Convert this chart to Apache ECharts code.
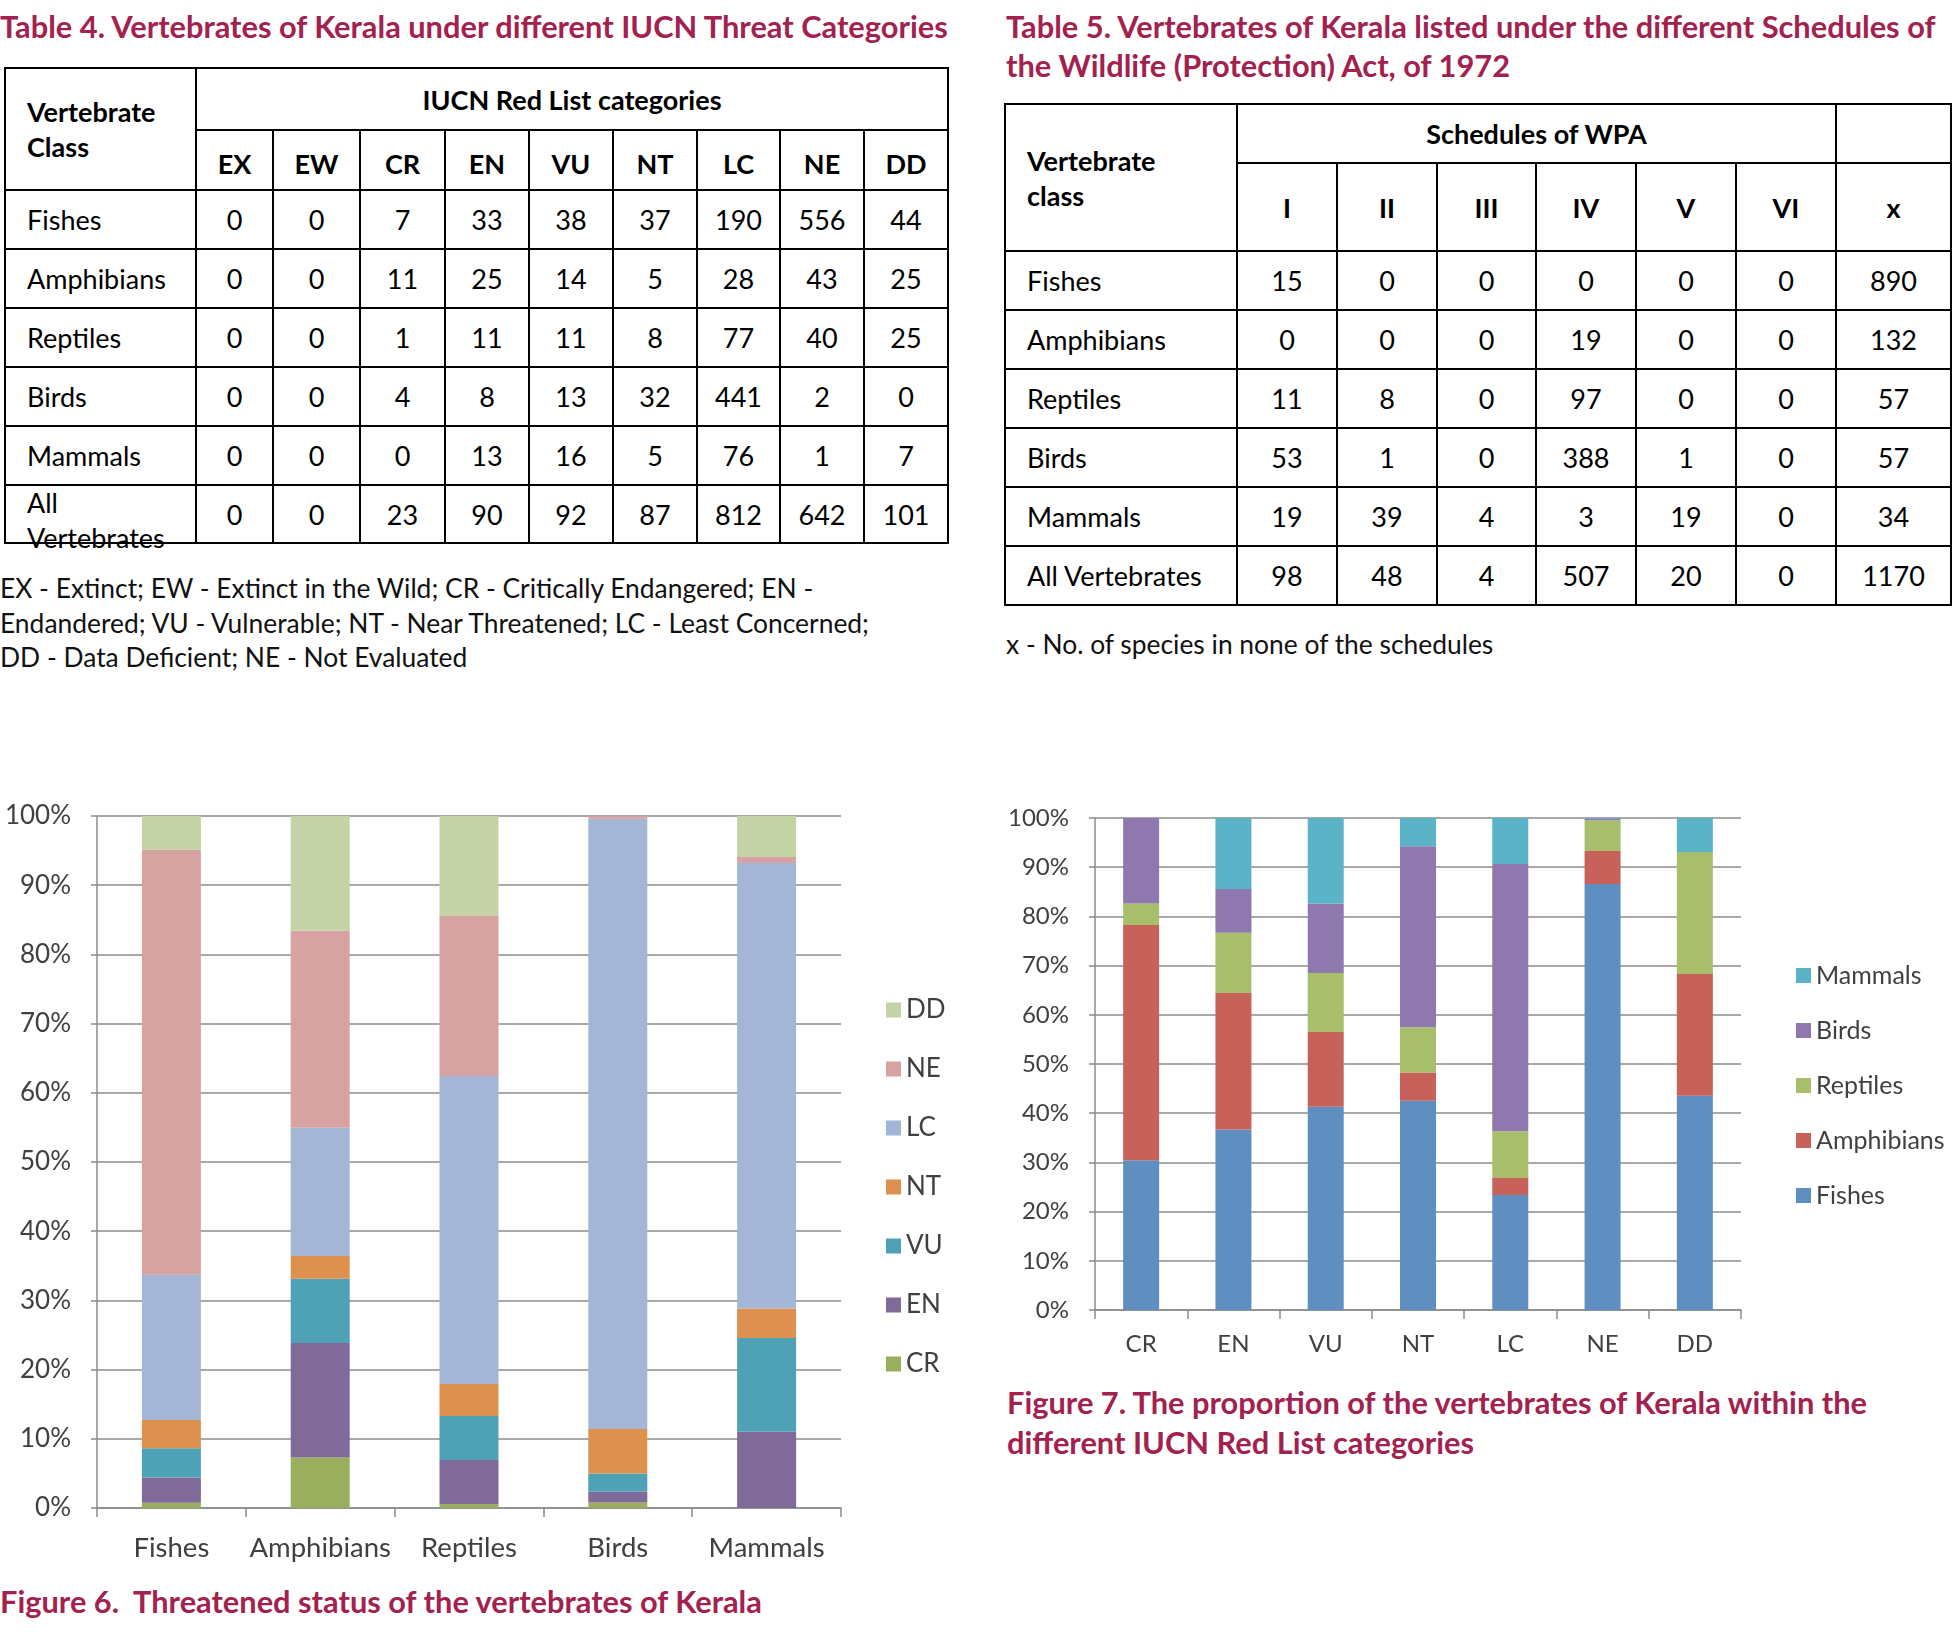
<!DOCTYPE html>
<html>
<head>
<meta charset="utf-8">
<script src="https://cdn.jsdelivr.net/npm/echarts@6/dist/echarts.min.js"></script>
<style>
  body {
    margin: 0;
    width: 1952px;
    height: 1640px;
    background: #fff;
    position: relative;
    overflow: hidden;
    font-family: Lato, sans-serif;
    color: #000;
  }
  .cap {
    position: absolute;
    color: #a3214f;
    font-weight: bold;
    font-size: 30.8px;
    white-space: nowrap;
  }
  .note {
    position: absolute;
    font-size: 26.4px;
    line-height: 34.5px;
    white-space: nowrap;
    color: #111;
  }
  table {
    position: absolute;
    border-collapse: collapse;
    table-layout: fixed;
    font-size: 27px;
  }
  td {
    border: 2.5px solid #000;
    text-align: center;
    padding: 0;
    overflow: visible;
  }
  td.name { text-align: left; padding-left: 21px; }
  td.head { font-weight: bold; }
  .chart { position: absolute; }
</style>
</head>
<body>

<div class="cap" style="left:0; top:10px; line-height:34px;">Table 4. Vertebrates of Kerala under different IUCN Threat Categories</div>
<table id="t4" style="left:4px; top:67px;"></table>
<div class="note" style="left:0; top:571px;">EX - Extinct; EW - Extinct in the Wild; CR - Critically Endangered; EN -<br>Endandered; VU - Vulnerable; NT - Near Threatened; LC - Least Concerned;<br>DD - Data Deficient; NE - Not Evaluated</div>

<div class="cap" style="left:1006px; top:7px; line-height:39px;">Table 5. Vertebrates of Kerala listed under the different Schedules of<br>the Wildlife (Protection) Act, of 1972</div>
<table id="t5" style="left:1004px; top:103px;"></table>
<div class="note" style="left:1006px; top:627px;">x - No. of species in none of the schedules</div>

<div id="fig6" class="chart" style="left:0; top:780px; width:980px; height:800px;"></div>
<div class="cap" style="left:0; top:1585px; line-height:34px;">Figure 6.&nbsp; Threatened status of the vertebrates of Kerala</div>

<div id="fig7" class="chart" style="left:990px; top:780px; width:962px; height:600px;"></div>
<div class="cap" style="left:1007px; top:1383px; line-height:40px;">Figure 7. The proportion of the vertebrates of Kerala within the<br>different IUCN Red List categories</div>

<script>
  // 数据：表 4 (IUCN 等级)
  const classes = ['Fishes', 'Amphibians', 'Reptiles', 'Birds', 'Mammals']
  const iucnCats = ['EX', 'EW', 'CR', 'EN', 'VU', 'NT', 'LC', 'NE', 'DD']
  const fishesIucn = [0, 0, 7, 33, 38, 37, 190, 556, 44]
  const amphibiansIucn = [0, 0, 11, 25, 14, 5, 28, 43, 25]
  const reptilesIucn = [0, 0, 1, 11, 11, 8, 77, 40, 25]
  const birdsIucn = [0, 0, 4, 8, 13, 32, 441, 2, 0]
  const mammalsIucn = [0, 0, 0, 13, 16, 5, 76, 1, 7]
  const allIucn = [0, 0, 23, 90, 92, 87, 812, 642, 101]

  // 数据：表 5 (WPA 附表)
  const wpaCols = ['I', 'II', 'III', 'IV', 'V', 'VI', 'x']
  const fishesWpa = [15, 0, 0, 0, 0, 0, 890]
  const amphibiansWpa = [0, 0, 0, 19, 0, 0, 132]
  const reptilesWpa = [11, 8, 0, 97, 0, 0, 57]
  const birdsWpa = [53, 1, 0, 388, 1, 0, 57]
  const mammalsWpa = [19, 39, 4, 3, 19, 0, 34]
  const allWpa = [98, 48, 4, 507, 20, 0, 1170]

  // 图中用到的类别 (EX/EW 全为 0，图里没有)
  const chartCats = ['CR', 'EN', 'VU', 'NT', 'LC', 'NE', 'DD']
  const yTicks = [0, 10, 20, 30, 40, 50, 60, 70, 80, 90, 100]

  const iucnRows = [fishesIucn, amphibiansIucn, reptilesIucn, birdsIucn, mammalsIucn]
  const wpaRows = [fishesWpa, amphibiansWpa, reptilesWpa, birdsWpa, mammalsWpa]

  const catColors = {
    CR: '#9aaf5e', EN: '#806a9a', VU: '#4fa2b6', NT: '#de914f',
    LC: '#a3b6d5', NE: '#d6a3a2', DD: '#c3d3a6'
  }
  const classColors = {
    Fishes: '#5e8fc0', Amphibians: '#c7625a', Reptiles: '#a8be6b',
    Birds: '#8e78ad', Mammals: '#5bb3c7'
  }

  // ---- 表格 ----
  function buildTable4() {
    const t = document.getElementById('t4')
    const widths = [191, 77, 87, 85, 84, 84, 84, 83, 84, 84]
    let html = '<colgroup>' + widths.map(w => `<col style="width:${w}px">`).join('') + '</colgroup>'
    html += '<tr style="height:62px"><td class="name head" rowspan="2" style="line-height:35px">Vertebrate<br>Class</td>' +
      `<td class="head" colspan="${iucnCats.length}">IUCN Red List categories</td></tr>`
    html += '<tr style="height:60px">' + iucnCats.map(c => `<td class="head" style="padding-top:6px">${c}</td>`).join('') + '</tr>'
    iucnRows.forEach((row, i) => {
      html += `<tr style="height:59px"><td class="name">${classes[i]}</td>` + row.map(v => `<td>${v}</td>`).join('') + '</tr>'
    })
    html += '<tr style="height:58px"><td class="name"><div style="position:relative;top:-3px;height:52px;line-height:35px;white-space:nowrap">All<br>Vertebrates</div></td>' +
      allIucn.map(v => `<td>${v}</td>`).join('') + '</tr>'
    t.innerHTML = html
  }

  function buildTable5() {
    const t = document.getElementById('t5')
    const widths = [232, 100, 100, 99, 100, 100, 100, 115]
    let html = '<colgroup>' + widths.map(w => `<col style="width:${w}px">`).join('') + '</colgroup>'
    html += '<tr style="height:59px"><td class="name head" rowspan="2" style="line-height:35px">Vertebrate<br>class</td>' +
      '<td class="head" colspan="6">Schedules of WPA</td><td></td></tr>'
    html += '<tr style="height:88px">' + wpaCols.map(c => `<td class="head">${c}</td>`).join('') + '</tr>'
    wpaRows.forEach((row, i) => {
      html += `<tr style="height:59px"><td class="name">${classes[i]}</td>` + row.map(v => `<td>${v}</td>`).join('') + '</tr>'
    })
    html += '<tr style="height:59px"><td class="name">All Vertebrates</td>' + allWpa.map(v => `<td>${v}</td>`).join('') + '</tr>'
    t.innerHTML = html
  }

  buildTable4()
  buildTable5()

  // ---- 图表公共设置 ----
  const axisGray = '#8c8c8c'
  const labelColor = '#404040'

  function valueAxis(fontSize, margin) {
    return {
      type: 'value',
      min: 0,
      max: 100,
      interval: 10,
      axisLine: { show: true, lineStyle: { color: axisGray, width: 1.5 } },
      axisTick: { show: true, length: 6, lineStyle: { color: axisGray, width: 1.5 } },
      splitLine: { lineStyle: { color: axisGray, width: 1.5 } },
      axisLabel: {
        fontSize, margin, color: labelColor, fontFamily: 'Lato',
        formatter: v => (yTicks.includes(v) ? v + '%' : '')
      }
    }
  }

  function categoryAxis(data, fontSize, margin) {
    return {
      type: 'category',
      data,
      axisLine: { lineStyle: { color: axisGray, width: 1.5 } },
      axisTick: { show: true, length: 9, lineStyle: { color: axisGray, width: 1.5 } },
      axisLabel: { interval: 0, fontSize, margin, color: labelColor, fontFamily: 'Lato' }
    }
  }

  // ---- 图 6：各类群内 IUCN 等级占比 ----
  const fig6 = echarts.init(document.getElementById('fig6'))
  const fig6Series = chartCats.map(cat => {
    const ci = iucnCats.indexOf(cat)
    return {
      name: cat,
      type: 'bar',
      stack: 'all',
      barWidth: 59,
      itemStyle: { color: catColors[cat] },
      data: iucnRows.map(row => {
        const total = row.reduce((a, b) => a + b, 0)
        return row[ci] / total * 100
      })
    }
  })
  fig6.setOption({
    animation: false,
    grid: { left: 97, right: 139, top: 36, bottom: 72 },
    xAxis: categoryAxis(classes, 27.5, 26),
    yAxis: valueAxis(26, 26),
    legend: {
      data: chartCats.slice().reverse(),
      orient: 'vertical',
      left: 881,
      top: 212,
      itemWidth: 15,
      itemHeight: 15,
      itemGap: 33,
      icon: 'rect',
      textStyle: { fontSize: 26, color: labelColor, fontFamily: 'Lato' }
    },
    series: fig6Series
  })

  // ---- 图 7：各 IUCN 等级内类群占比 ----
  const fig7 = echarts.init(document.getElementById('fig7'))
  const fig7Series = classes.map((name, i) => ({
    name,
    type: 'bar',
    stack: 'all',
    barWidth: 36,
    itemStyle: { color: classColors[name] },
    data: chartCats.map(cat => {
      const ci = iucnCats.indexOf(cat)
      const total = iucnRows.reduce((s, row) => s + row[ci], 0)
      return iucnRows[i][ci] / total * 100
    })
  }))
  fig7.setOption({
    animation: false,
    grid: { left: 105, right: 211, top: 38, bottom: 70 },
    xAxis: categoryAxis(chartCats, 24, 22),
    yAxis: valueAxis(24, 26),
    legend: {
      data: classes.slice().reverse(),
      orient: 'vertical',
      left: 801,
      top: 178,
      itemWidth: 15,
      itemHeight: 15,
      itemGap: 30,
      icon: 'rect',
      textStyle: { fontSize: 25, color: labelColor, fontFamily: 'Lato' }
    },
    series: fig7Series
  })
</script>
</body>
</html>
